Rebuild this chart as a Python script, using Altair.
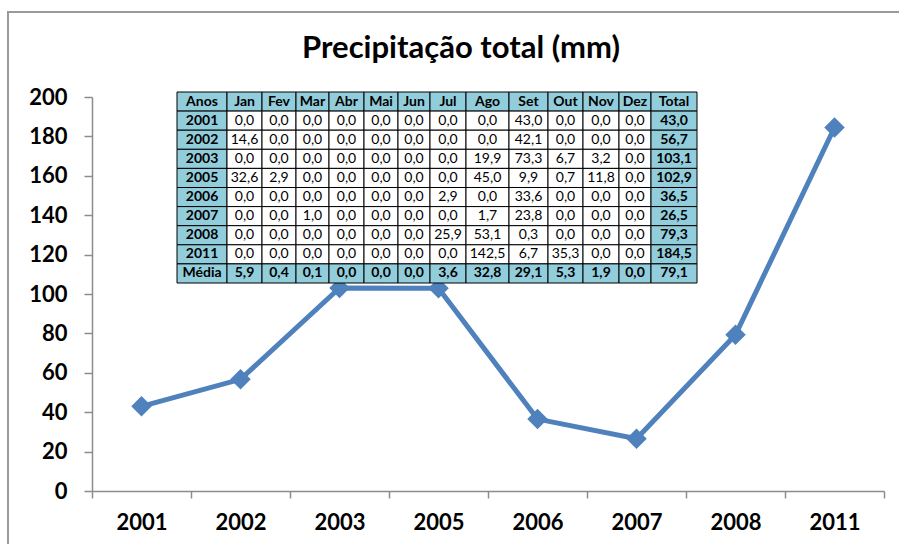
import altair as alt
import pandas as pd

# Annual totals (mm) per year
anos = ["2001", "2002", "2003", "2005", "2006", "2007", "2008", "2011"]
totais = [43.0, 56.7, 103.1, 102.9, 36.5, 26.5, 79.3, 184.5]

# Monthly precipitation (mm) per year
meses = ["Jan", "Fev", "Mar", "Abr", "Mai", "Jun", "Jul", "Ago", "Set", "Out", "Nov", "Dez"]
p2001 = [0.0, 0.0, 0.0, 0.0, 0.0, 0.0, 0.0, 0.0, 43.0, 0.0, 0.0, 0.0]
p2002 = [14.6, 0.0, 0.0, 0.0, 0.0, 0.0, 0.0, 0.0, 42.1, 0.0, 0.0, 0.0]
p2003 = [0.0, 0.0, 0.0, 0.0, 0.0, 0.0, 0.0, 19.9, 73.3, 6.7, 3.2, 0.0]
p2005 = [32.6, 2.9, 0.0, 0.0, 0.0, 0.0, 0.0, 45.0, 9.9, 0.7, 11.8, 0.0]
p2006 = [0.0, 0.0, 0.0, 0.0, 0.0, 0.0, 2.9, 0.0, 33.6, 0.0, 0.0, 0.0]
p2007 = [0.0, 0.0, 1.0, 0.0, 0.0, 0.0, 0.0, 1.7, 23.8, 0.0, 0.0, 0.0]
p2008 = [0.0, 0.0, 0.0, 0.0, 0.0, 0.0, 25.9, 53.1, 0.3, 0.0, 0.0, 0.0]
p2011 = [0.0, 0.0, 0.0, 0.0, 0.0, 0.0, 0.0, 142.5, 6.7, 35.3, 0.0, 0.0]
mensal = [p2001, p2002, p2003, p2005, p2006, p2007, p2008, p2011]

# Monthly means and mean annual total
media_mensal = [5.9, 0.4, 0.1, 0.0, 0.0, 0.0, 3.6, 32.8, 29.1, 5.3, 1.9, 0.0]
media_total = 79.1

# ---- layout constants ----
W, H = 792, 394
PAD_L, PAD_T = 92, 97
FONT = "Lato"
AZUL = "#4F81BD"
CELULA = "#92CDDC"
col_larg = [50, 35, 34, 33, 35, 34, 32, 36, 43, 39, 35, 36, 32, 46]
tab_x0, tab_y0, tab_y1 = 85, -5, 186


def fmt(v):
    return f"{v:.1f}".replace(".", ",")


# ---- line chart with diamond markers ----
serie = pd.DataFrame({"ano": anos, "total": totais})
linha = alt.Chart(serie).mark_line(
    color=AZUL, strokeWidth=5,
    point=alt.OverlayMarkDef(shape="diamond", filled=True, color=AZUL, size=420, opacity=1),
).encode(
    x=alt.X("ano:N", sort=anos, title=None,
            scale=alt.Scale(paddingInner=0, paddingOuter=0),
            axis=alt.Axis(labelAngle=0, tickBand="extent", tickSize=7,
                          labelPadding=14, labelFontSize=22, labelFont=FONT,
                          labelFontWeight="bold", labelColor="black",
                          domainColor="#8c8c8c", tickColor="#8c8c8c",
                          domainWidth=1.5, tickWidth=1.5, grid=False)),
    y=alt.Y("total:Q", title=None,
            scale=alt.Scale(domain=[0, 200], nice=False),
            axis=alt.Axis(values=list(range(0, 201, 20)), tickSize=8,
                          labelPadding=17, labelFontSize=22, labelFont=FONT,
                          labelFontWeight="bold", labelColor="black",
                          domainColor="#8c8c8c", tickColor="#8c8c8c",
                          domainWidth=1.5, tickWidth=1.5, grid=False)),
)

# ---- data table ----
linhas_tab = ["Anos"] + anos + ["Média"]
colunas_tab = ["Anos"] + meses + ["Total"]
bordas = [0]
for w in col_larg:
    bordas.append(bordas[-1] + w)

registros = []
for r, rot in enumerate(linhas_tab):
    for c, col in enumerate(colunas_tab):
        if r == 0:
            txt, azul, negrito = col, True, True
        elif r == len(linhas_tab) - 1:
            if c == 0:
                txt = rot
            elif c == len(colunas_tab) - 1:
                txt = fmt(media_total)
            else:
                txt = fmt(media_mensal[c - 1])
            azul, negrito = True, True
        else:
            if c == 0:
                txt, azul, negrito = rot, True, True
            elif c == len(colunas_tab) - 1:
                txt, azul, negrito = fmt(totais[r - 1]), True, True
            else:
                txt, azul, negrito = fmt(mensal[r - 1][c - 1]), False, False
        registros.append({
            "x0": bordas[c], "x1": bordas[c + 1], "xc": (bordas[c] + bordas[c + 1]) / 2,
            "y0": r, "y1": r + 1, "yc": r + 0.5,
            "txt": txt, "fundo": CELULA if azul else "white", "negrito": negrito,
        })
celulas = pd.DataFrame(registros)

xs = alt.Scale(domain=[0, bordas[-1]], range=[tab_x0, tab_x0 + bordas[-1]])
ys = alt.Scale(domain=[0, len(linhas_tab)], range=[tab_y0, tab_y1])

tab_base = alt.Chart(celulas)
caixas = tab_base.mark_rect(stroke="black", strokeWidth=1).encode(
    x=alt.X("x0:Q", scale=xs, axis=None),
    x2="x1:Q",
    y=alt.Y("y0:Q", scale=ys, axis=None),
    y2="y1:Q",
    fill=alt.Fill("fundo:N", scale=None, legend=None),
)
texto_norm = tab_base.transform_filter("!datum.negrito").mark_text(
    font=FONT, fontSize=14, color="black", baseline="middle", align="center"
).encode(
    x=alt.X("xc:Q", scale=xs, axis=None),
    y=alt.Y("yc:Q", scale=ys, axis=None),
    text="txt:N",
)
texto_neg = tab_base.transform_filter("datum.negrito").mark_text(
    font=FONT, fontSize=14, fontWeight="bold", color="black",
    baseline="middle", align="center"
).encode(
    x=alt.X("xc:Q", scale=xs, axis=None),
    y=alt.Y("yc:Q", scale=ys, axis=None),
    text="txt:N",
)
tabela = alt.layer(caixas, texto_norm, texto_neg)

# ---- chart title and frame ----
vazio = alt.Data(values=[{}])
titulo = alt.Chart(vazio).mark_text(
    text="Precipitação total (mm)", font=FONT, fontSize=31, fontWeight="bold",
    color="black", align="center", baseline="middle",
).encode(x=alt.value(461 - PAD_L), y=alt.value(49 - PAD_T))
moldura = alt.Chart(vazio).mark_rect(
    filled=False, stroke="#9a9a9a", strokeWidth=2
).encode(x=alt.value(8 - PAD_L), x2=alt.value(915 - PAD_L),
         y=alt.value(12 - PAD_T), y2=alt.value(560 - PAD_T))

chart = alt.layer(moldura, linha, tabela, titulo).resolve_scale(
    x="independent", y="independent"
).properties(
    width=W, height=H,
    autosize=alt.AutoSizeParams(type="none"),
    padding={"left": PAD_L, "top": PAD_T, "right": 899 - PAD_L - W, "bottom": 544 - PAD_T - H},
    background="white",
).configure_view(strokeWidth=0)

chart.save("out.html", embed_options={"renderer": "svg", "actions": False})
